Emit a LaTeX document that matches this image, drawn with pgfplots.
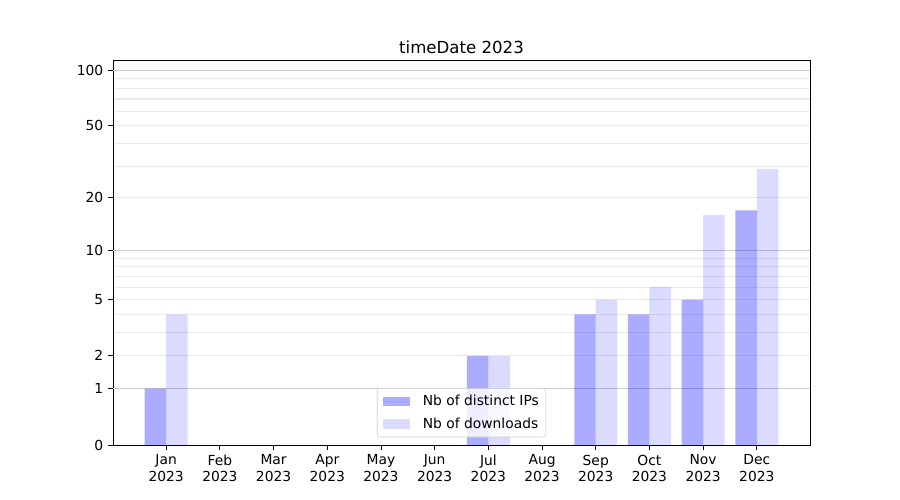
\documentclass[border=0pt]{standalone}
\usepackage{fontspec}
\setmainfont{DejaVu Sans}
\usepackage{pgfplots}
\pgfplotsset{compat=1.18}
\definecolor{majgrid}{HTML}{CCCCCC}
\definecolor{mingrid}{HTML}{EBEBEB}
\begin{document}
\begin{tikzpicture}
\path[use as bounding box] (-1.13in,-0.55in) rectangle (7.87in,4.45in);
\begin{axis}[
  at={(0,0)}, anchor=south west,
  scale only axis, width=6.97in, height=3.85in,
  xmin=-0.99, xmax=11.99, ymin=0, ymax=2.06,
  axis line style={line width=0.6pt},
  /pgf/number format/assume math mode=true,
  tick label style={font=\fontsize{10}{12}\selectfont},
  title={timeDate 2023},
  title style={font=\fontsize{12}{14.4}\selectfont, yshift=-5pt},
  xtick={0,...,11},
  xticklabels={Jan\\2023,Feb\\2023,Mar\\2023,Apr\\2023,May\\2023,Jun\\2023,Jul\\2023,Aug\\2023,Sep\\2023,Oct\\2023,Nov\\2023,Dec\\2023},
  xticklabel style={align=center},
  ytick={0,0.30103,0.47712,0.77815,1.04139,1.32222,1.70757,2.00432},
  yticklabels={0,1,2,5,10,20,50,100},
  minor ytick={0.47712,0.60206,0.69897,0.77815,0.84510,0.90309,0.95424,1.0,1.32222,1.49136,1.61278,1.70757,1.78533,1.85126,1.90849,1.95904},
  minor tick length=0pt,
  yminorgrids=true,
  minor grid style={mingrid, line width=0.8pt},
  extra y ticks={0.30103,1.04139,2.00432},
  extra y tick labels={},
  extra y tick style={grid=major, major grid style={majgrid, line width=0.8pt}},
  tick align=outside, major tick length=3.5pt,
  tick style={black, line width=0.6pt},
  xtick pos=bottom, ytick pos=left,
  axis on top=false,
  legend style={at={(0.5,0.02)}, anchor=south, draw=mingrid!70!gray, rounded corners=2pt,
    fill=white, fill opacity=0.8, text opacity=1, font=\fontsize{10}{12}\selectfont,
    row sep=3pt, inner xsep=3pt, inner ysep=3pt},
  legend cell align=left,
  legend image code/.code={\fill[#1, sharp corners] (0pt,-3.5pt) rectangle (20pt,3.5pt);
    \path (-1pt,0) -- (27pt,0);},
]
\addplot[ybar, bar width=0.4, bar shift=-0.2, draw=none, fill=blue, fill opacity=0.33]
  table[x=m, y expr={log10(1+\thisrow{v})}] {
m v
0 1
6 2
8 4
9 4
10 5
11 17
};
\addlegendentry{Nb of distinct IPs}
\addplot[ybar, bar width=0.4, bar shift=0.2, draw=none, fill=blue, fill opacity=0.14]
  table[x=m, y expr={log10(1+\thisrow{v})}] {
m v
0 4
6 2
8 5
9 6
10 16
11 29
};
\addlegendentry{Nb of downloads}
\end{axis}
\end{tikzpicture}
\end{document}
